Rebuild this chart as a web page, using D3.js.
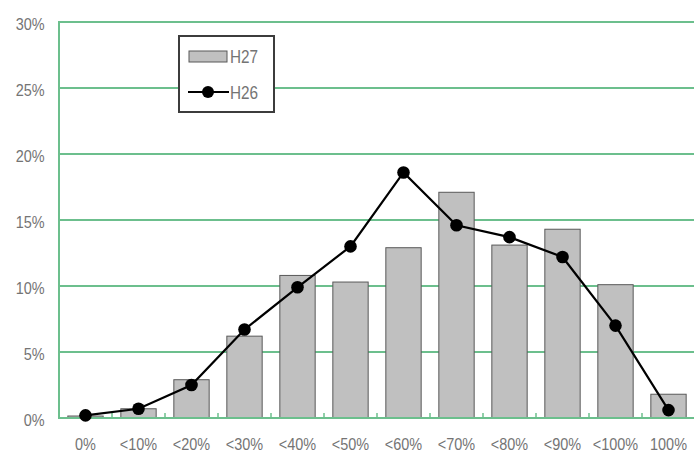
<!DOCTYPE html>
<html>
<head>
<meta charset="utf-8">
<script src="https://cdn.jsdelivr.net/npm/d3@7"></script>
<style>
  html, body { margin: 0; padding: 0; background: #fff; }
  svg { display: block; }
  text { font-family: "Liberation Sans", Arial, sans-serif; fill: #747474; }
</style>
</head>
<body>
<svg id="chart" width="694" height="455"></svg>
<script>
// Rate bins
const categories = ["0%", "<10%", "<20%", "<30%", "<40%", "<50%", "<60%", "<70%", "<80%", "<90%", "<100%", "100%"];
// Share of respondents per bin (%)
const h27 = [0.15, 0.7, 2.9, 6.2, 10.8, 10.3, 12.9, 17.1, 13.1, 14.3, 10.1, 1.8];
const h26 = [0.2, 0.7, 2.5, 6.7, 9.9, 13.0, 18.6, 14.6, 13.7, 12.2, 7.0, 0.6];
const yTicks = [0, 5, 10, 15, 20, 25, 30];
const seriesNames = ["H27", "H26"];

const svg = d3.select("#chart");
const margin = { left: 59, right: -1, top: 22, bottom: 37 };
const W = 694, H = 455;
const squeeze = "scale(0.85,1)"; // narrow lettering

const x = d3.scaleBand()
  .domain(categories)
  .range([margin.left, W - margin.right])
  .paddingInner(1 / 3)
  .paddingOuter(1 / 6);

const y = d3.scaleLinear()
  .domain([0, 30])
  .range([H - margin.bottom, margin.top]);

const grid = "#6cbf8d";

// Horizontal gridlines
svg.append("g")
  .selectAll("line")
  .data(yTicks)
  .join("line")
  .attr("x1", margin.left)
  .attr("x2", W)
  .attr("y1", d => y(d))
  .attr("y2", d => y(d))
  .attr("stroke", grid)
  .attr("stroke-width", 2);

// Left axis line
svg.append("line")
  .attr("x1", margin.left).attr("x2", margin.left)
  .attr("y1", y(30) - 1).attr("y2", y(0) + 1)
  .attr("stroke", grid).attr("stroke-width", 2);

// Y axis labels
const yAxis = svg.append("g")
  .attr("transform", `translate(${margin.left},0)`)
  .call(d3.axisLeft(y).tickValues(yTicks).tickFormat(d => d + "%").tickSize(0).tickPadding(17));
yAxis.select(".domain").remove();
yAxis.selectAll("text")
  .attr("font-size", 17)
  .attr("dy", "0.42em")
  .attr("transform", squeeze)
  .style("font-family", "Liberation Sans, Arial, sans-serif")
  .attr("fill", "#747474");

// Bars (H27)
svg.append("g")
  .selectAll("rect")
  .data(h27)
  .join("rect")
  .attr("x", (d, i) => x(categories[i]))
  .attr("width", x.bandwidth())
  .attr("y", d => y(d))
  .attr("height", d => y(0) - y(d))
  .attr("fill", "#c0c0c0")
  .attr("stroke", "#595959")
  .attr("stroke-width", 1);

// Baseline
svg.append("line")
  .attr("x1", margin.left).attr("x2", W)
  .attr("y1", y(0)).attr("y2", y(0))
  .attr("stroke", grid).attr("stroke-width", 2);

// Category boundary ticks
const gap = (x.step() - x.bandwidth()) / 2;
svg.append("g")
  .selectAll("line")
  .data(categories.slice(1))
  .join("line")
  .attr("x1", d => x(d) - gap)
  .attr("x2", d => x(d) - gap)
  .attr("y1", y(0))
  .attr("y2", y(0) - 5)
  .attr("stroke", grid)
  .attr("stroke-width", 1.5);

// X axis labels
const xAxis = svg.append("g")
  .attr("transform", `translate(0,${y(0)})`)
  .call(d3.axisBottom(x).tickSize(0).tickPadding(20));
xAxis.select(".domain").remove();
xAxis.selectAll("text")
  .attr("font-size", 17)
  .attr("transform", squeeze)
  .style("font-family", "Liberation Sans, Arial, sans-serif")
  .attr("fill", "#747474");

// Line series (H26)
const cx = i => x(categories[i]) + x.bandwidth() / 2;
svg.append("path")
  .datum(h26)
  .attr("d", d3.line().x((d, i) => cx(i)).y(d => y(d)))
  .attr("fill", "none")
  .attr("stroke", "#000")
  .attr("stroke-width", 2.2);
svg.append("g")
  .selectAll("circle")
  .data(h26)
  .join("circle")
  .attr("cx", (d, i) => cx(i))
  .attr("cy", d => y(d))
  .attr("r", 6.3)
  .attr("fill", "#000");

// Legend
const lg = svg.append("g").attr("transform", "translate(179,36)");
lg.append("rect")
  .attr("width", 95).attr("height", 76)
  .attr("fill", "#fff")
  .attr("stroke", "#3c3c3c")
  .attr("stroke-width", 2);
lg.append("rect")
  .attr("x", 10).attr("y", 15).attr("width", 38).attr("height", 11)
  .attr("fill", "#c0c0c0").attr("stroke", "#595959").attr("stroke-width", 1);
lg.append("line")
  .attr("x1", 9).attr("x2", 50).attr("y1", 56).attr("y2", 56)
  .attr("stroke", "#000").attr("stroke-width", 2.2);
lg.append("circle").attr("cx", 29).attr("cy", 56).attr("r", 6).attr("fill", "#000");
lg.selectAll("text.lab")
  .data(seriesNames)
  .join("text")
  .attr("class", "lab")
  .attr("x", 51 / 0.85)
  .attr("y", (d, i) => 21 + i * 36)
  .attr("dy", "0.36em")
  .attr("font-size", 18)
  .attr("transform", squeeze)
  .attr("fill", "#747474")
  .text(d => d);
</script>
</body>
</html>
